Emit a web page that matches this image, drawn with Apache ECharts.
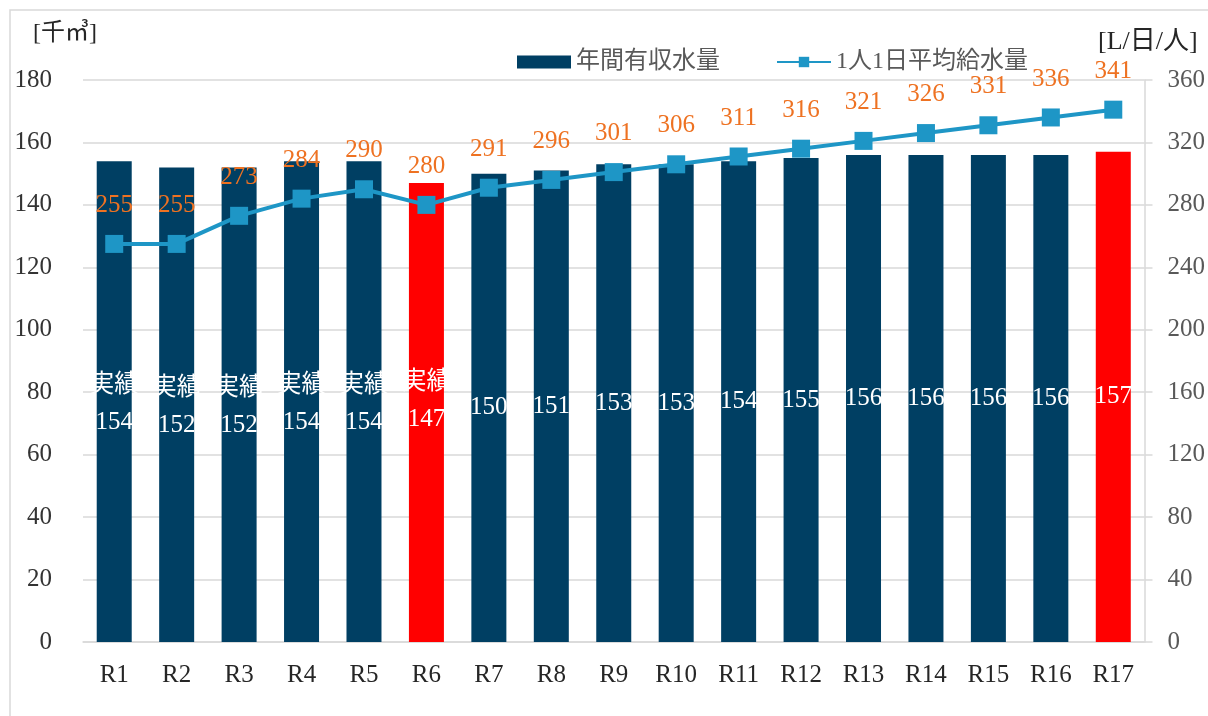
<!DOCTYPE html>
<html>
<head>
<meta charset="utf-8">
<script src="https://cdn.jsdelivr.net/npm/echarts@6/dist/echarts.min.js"></script>
<style>
html,body{margin:0;padding:0;background:#fff;}
#chart{width:1208px;height:716px;}
</style>
</head>
<body>
<div id="chart"></div>
<script>
const categories = ['R1','R2','R3','R4','R5','R6','R7','R8','R9','R10','R11','R12','R13','R14','R15','R16','R17'];
const annualWater = [154,152,152,154,154,147,150,151,153,153,154,155,156,156,156,156,157];
const perCapita = [255,255,273,284,290,280,291,296,301,306,311,316,321,326,331,336,341];
const actualFlags = [true,true,true,true,true,true,false,false,false,false,false,false,false,false,false,false,false];
const highlightIdx = [5,16];
const leftTicks = {min:0,max:180,interval:20};
const rightTicks = {min:0,max:360,interval:40};
const seriesNames = ['年間有収水量','1人1日平均給水量'];
const leftUnit = '[千㎥]';
const rightUnit = '[L/日/人]';

const NAVY = '#003F63';
const RED = '#FF0000';
const BLUE = '#1E96C6';
const ORANGE = '#EE7222';
const SERIF = '"Liberation Serif","Noto Sans CJK JP",serif';

const chart = echarts.init(document.getElementById('chart'));

const barData = annualWater.map((v,i)=>({
  value: v,
  itemStyle: {color: highlightIdx.includes(i) ? RED : NAVY},
  label: {
    formatter: actualFlags[i] ? '実績\n{c}' : '{c}',
    offset: actualFlags[i] ? (i === 5 ? [0,-12] : [0,2]) : [0,0]
  }
}));

chart.setOption({
  backgroundColor:'#fff',
  animation:false,
  textStyle:{fontFamily:SERIF},
  graphic:[
    {type:'rect', z:-10, shape:{x:10,y:10,width:1400,height:900}, style:{fill:'none',stroke:'#d9d9d9',lineWidth:1.5}, silent:true},
    {type:'text', left:33, top:22, style:{text:leftUnit, font:'24px '+SERIF, fill:'#262626'}},
    {type:'text', left:1098, top:29, style:{text:rightUnit, font:'26px '+SERIF, fill:'#262626'}}
  ],
  legend:{
    left:512, top:45,
    itemWidth:54, itemHeight:13, itemGap:56,
    textStyle:{fontSize:24, color:'#595959', fontFamily:SERIF},
    data:[{name:seriesNames[0], icon:'rect'}, {name:seriesNames[1]}]
  },
  grid:{left:83,right:61,top:80,bottom:74},
  xAxis:{
    type:'category', data:categories,
    axisLine:{lineStyle:{color:'#d9d9d9',width:1.5}},
    axisTick:{show:false},
    axisLabel:{fontSize:25,color:'#262626',margin:21,fontFamily:SERIF}
  },
  yAxis:[
    {type:'value', min:leftTicks.min, max:leftTicks.max, interval:leftTicks.interval,
     axisLine:{show:false}, axisTick:{show:false},
     axisLabel:{fontSize:25,color:'#333',margin:31,fontFamily:SERIF},
     splitLine:{lineStyle:{color:'#d9d9d9',width:1.5}}},
    {type:'value', min:rightTicks.min, max:rightTicks.max, interval:rightTicks.interval,
     axisLine:{show:true,lineStyle:{color:'#d9d9d9',width:1.5}},
     axisTick:{show:true,length:8,lineStyle:{color:'#d9d9d9',width:1.5}},
     axisLabel:{fontSize:25,color:'#595959',margin:23,fontFamily:SERIF},
     splitLine:{show:false}}
  ],
  series:[
    {name:seriesNames[0], type:'bar', data:barData, barWidth:35,
     itemStyle:{color:NAVY},
     label:{show:true, position:'inside', color:'#fff', fontSize:25, lineHeight:37, fontFamily:SERIF}
    },
    {name:seriesNames[1], type:'line', yAxisIndex:1, data:perCapita,
     symbol:'rect', symbolSize:18,
     itemStyle:{color:BLUE},
     lineStyle:{color:BLUE,width:4},
     label:{show:true, position:'top', distance:17, color:ORANGE, fontSize:25, fontFamily:SERIF}
    }
  ]
});
</script>
</body>
</html>
